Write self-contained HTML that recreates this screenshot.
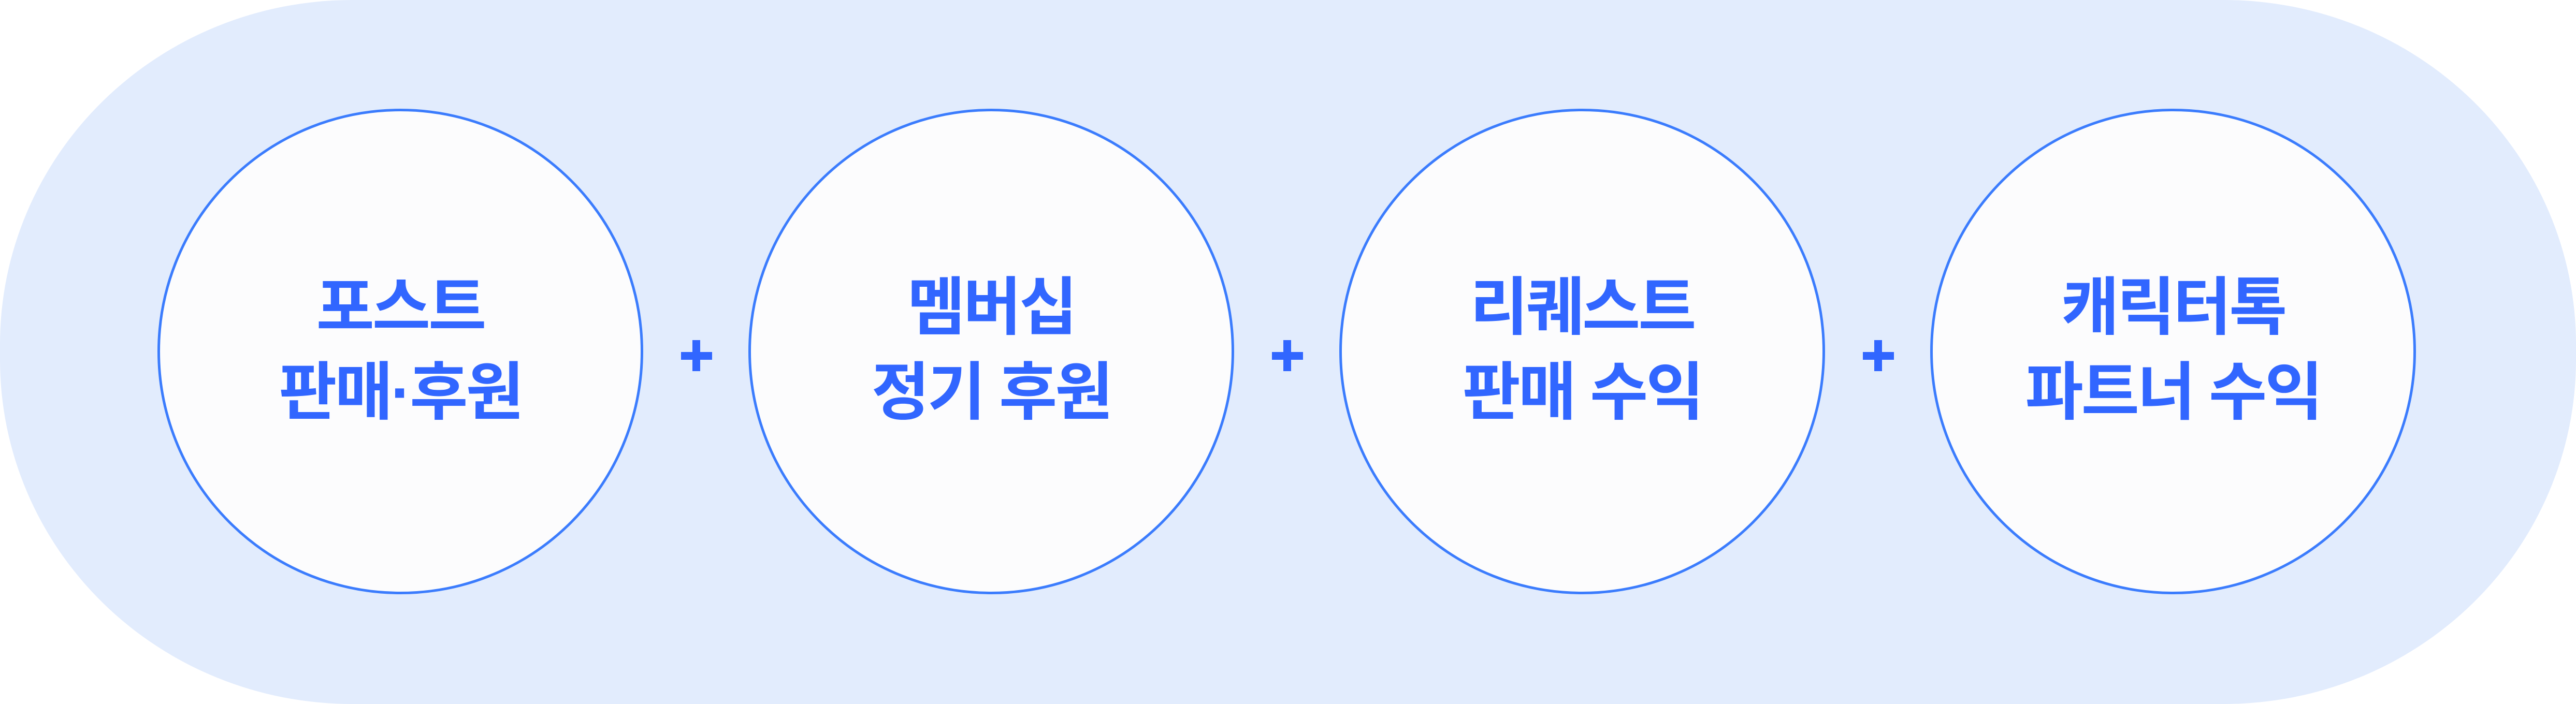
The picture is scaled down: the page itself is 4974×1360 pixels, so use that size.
<!DOCTYPE html>
<html><head><meta charset="utf-8"><style>
html,body{margin:0;padding:0;background:#fff;}
body{width:4974px;height:1360px;position:relative;overflow:hidden;}
.bg{position:absolute;left:0;top:0;width:4974px;height:1360px;background:#e2ecfd;border-radius:680px/665px;}
.c{position:absolute;width:938px;height:938px;border-radius:50%;border:5px solid #3b7cfd;background:#fcfcfd;box-sizing:border-box;top:210px;}
.t{position:absolute;top:512px;width:1000px;text-align:center;font-family:"Liberation Sans","Noto Sans CJK KR",sans-serif;font-weight:700;font-size:122px;line-height:164px;letter-spacing:-4px;color:#3166ff;}
.ph{position:absolute;width:60px;height:15px;background:#3166ff;top:680px;}
.pv{position:absolute;width:15px;height:60px;background:#3166ff;top:657px;}
</style></head><body>
<div class="bg"></div>
<div class="c" style="left:304px"></div>
<div class="c" style="left:1445px"></div>
<div class="c" style="left:2586px"></div>
<div class="c" style="left:3727px"></div>
<div class="t" style="left:273px">포스트<br>판매·후원</div>
<div class="t" style="left:1414px">멤버십<br>정기 후원</div>
<div class="t" style="left:2555px">리퀘스트<br>판매 수익</div>
<div class="t" style="left:3696px">캐릭터톡<br>파트너 수익</div>
<div class="ph" style="left:1315px"></div><div class="pv" style="left:1337px"></div>
<div class="ph" style="left:2456px"></div><div class="pv" style="left:2478px"></div>
<div class="ph" style="left:3597px"></div><div class="pv" style="left:3619px"></div>
</body></html>
